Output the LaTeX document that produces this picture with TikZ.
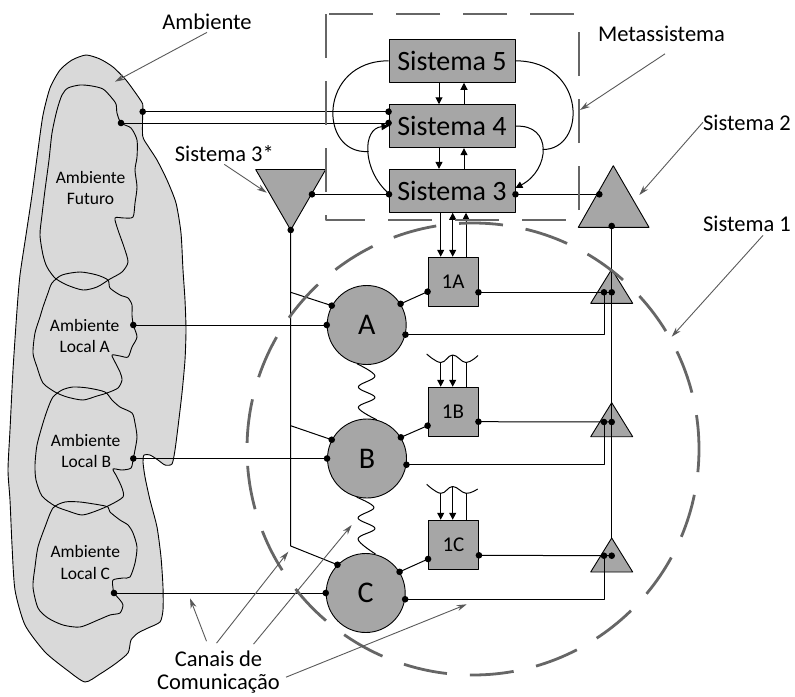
\documentclass[tikz,border=0pt]{standalone}
\usepackage{fontspec}
\setmainfont{Carlito}
\usetikzlibrary{arrows.meta,calc}

\definecolor{boxgray}{HTML}{A6A6A6}
\definecolor{envgray}{HTML}{D9D9D9}
\definecolor{dashgray}{HTML}{666666}
\definecolor{notegray}{HTML}{595959}

\newcommand\vsmdot[1]{\fill (#1) circle (3.3pt);}

\begin{document}
\begin{tikzpicture}[x=1pt,y=-1pt,line join=round,
  wire/.style={black, line width=1pt},
  arr/.style={wire, -{Triangle[length=7pt,width=7pt]}},
  biarr/.style={wire, {Triangle[length=7pt,width=7pt]}-{Triangle[length=7pt,width=7pt]}},
  sysbox/.style={draw=black, line width=0.9pt, fill=boxgray, minimum width=126pt,
    minimum height=43pt, inner sep=0pt, font=\fontsize{28}{30}\selectfont},
  opbox/.style={draw=black, line width=0.9pt, fill=boxgray, minimum width=50pt,
    minimum height=49pt, inner sep=0pt, font=\fontsize{21}{23}\selectfont},
  unit/.style={circle, draw=black, line width=0.9pt, fill=boxgray, minimum size=79pt,
    inner sep=0pt, font=\fontsize{30}{32}\selectfont},
  tri/.style={draw=black, line width=0.9pt, fill=boxgray},
  envline/.style={black, line width=0.9pt},
  dashline/.style={dashgray, line width=2.8pt, dash pattern=on 44pt off 23pt},
  note/.style={notegray, line width=0.9pt, -{Stealth[length=10pt,width=6pt]}},
  lbl/.style={font=\fontsize{22.5}{26}\selectfont, inner sep=0pt, anchor=base},
  small/.style={font=\fontsize{17.5}{21}\selectfont, inner sep=0pt, anchor=base},
]
\useasboundingbox (0,0) rectangle (795,696);

% ---------- environment ----------
\draw[envline, fill=envgray] plot[smooth cycle, tension=0.4] coordinates {
 (86,55) (100,59) (113,67) (126,80) (137,95) (142.7,104) (142.7,112) (142.7,136)
 (148,146) (157,160) (167,180) (176,203) (181,233) (183,270) (185,300) (186,330)
 (185,360) (182,393) (178,427) (175,450) (172,464) (165,465) (158,460) (150,455)
 (144,455) (143,462) (145,477) (150,500) (157,527) (161,557) (163,587) (163,610)
 (160,622) (148,628) (138,633) (131,640) (128,653) (115,664) (100,674) (85,682)
 (67,670) (45,652) (25,625) (15,590) (12,545) (10,500) (8,470) (10,430) (13,370)
 (17,310) (20,275) (26,235) (32,195) (38,150) (43,115) (50,88) (60,70) (72,60)};
% future environment
\draw[envline] plot[smooth cycle, tension=0.45] coordinates {
 (80,85) (92,86) (103,89) (111,97) (116,104) (117,113) (121,123) (131,128) (137,140)
 (137,157) (135,170) (137,187) (135,203) (133,217) (124,218) (115,218) (118,230)
 (124,247) (128,262) (122,272) (110,279) (97,287) (83,290) (67,285) (55,278) (47,267)
 (43,255) (40,235) (42,215) (45,190) (49,160) (52,133) (57,110) (62,95) (68,88)};
% local environment A
\draw[envline] plot[smooth cycle, tension=0.45] coordinates {
 (52,283) (62,275) (80,272) (97,275) (108,280) (110,288) (120,295) (128,298) (132,305)
 (132,315) (133.3,325) (137,337) (132,347) (128,357) (120,356) (112,355) (115,362)
 (120,372) (122,380) (118,388) (107,393) (97,396) (83,400) (67,397) (55,392) (43,383)
 (37,367) (33,353) (35,333) (40,317) (43,307) (48,293)};
% local environment B
\draw[envline] plot[smooth cycle, tension=0.45] coordinates {
 (53,397) (62,390) (73,387) (88,388) (105,392) (112,400) (120,407) (132,413) (135,423)
 (137,437) (135,450) (133.3,458.5) (131,468) (122,470) (113,469) (117,477) (122,488)
 (123,497) (110,505) (96,511) (82,515) (68,511) (55,506) (42,496) (36,480) (35,465)
 (37,445) (43,423) (48,408)};
% local environment C
\draw[envline] plot[smooth cycle, tension=0.45] coordinates {
 (53,508) (65,502) (80,502) (100,505) (108,507) (110,512) (120,520) (128,525) (133,533)
 (137,547) (135,563) (130,577) (123,578) (113,580) (113,588) (114,593) (120,600)
 (123,605) (120,613) (110,615) (98,620) (80,627) (63,625) (48,618) (38,608) (33,587)
 (35,567) (38,547) (45,527)};

\node[small] (tF1) at (90.5,183.5) {Ambiente};
\node[small] (tF2) at (90.5,204.5) {Futuro};
\node[small] (tA1) at (84.7,331.7) {Ambiente};
\node[small] (tA2) at (84.7,352.7) {Local A};
\node[small] (tB1) at (85.7,446.7) {Ambiente};
\node[small] (tB2) at (86.2,467) {Local B};
\node[small] (tC1) at (85.3,557.3) {Ambiente};
\node[small] (tC2) at (85.3,579) {Local C};

% ---------- metasystem ----------
\node[sysbox] (s5) at (452,60.8) {Sistema 5};
\node[sysbox] (s4) at (452,126.2) {Sistema 4};
\node[sysbox] (s3) at (452,190.8) {Sistema 3};

\draw[arr] ([xshift=-13pt]s5.south) -- ([xshift=-13pt]s4.north);
\draw[arr] ([xshift=12pt]s4.north) -- ([xshift=12pt]s5.south);
\draw[arr] ([xshift=-13pt]s4.south) -- ([xshift=-13pt]s3.north);
\draw[arr] ([xshift=12pt]s3.north) -- ([xshift=12pt]s4.south);

\coordinate (jl) at (368.7,151.5);
\coordinate (jr) at (542.6,149.5);
\draw[wire] (s5.west) .. controls (318,61) and (318,155) .. (jl);
\draw[arr] ([yshift=-2.5pt]s3.west) .. controls (362,170) and (362,128) .. (s4.west);
\draw[wire] (s5.east) .. controls (587,61) and (587,150) .. (jr);
\draw[arr] (s4.east) .. controls (553,124) and (550,170) .. ([yshift=2.8pt]s3.east);

% triangles
\coordinate (qa) at (255.7,169.5);
\coordinate (qb) at (325.7,169.5);
\coordinate (qc) at (290.7,230);
\draw[tri] (qa) -- (qb) -- (qc) -- cycle;
\coordinate (ka) at (613.3,165.7);
\coordinate (kb) at (578.3,227.3);
\coordinate (kc) at (649,227.3);
\draw[tri] (ka) -- (kb) -- (kc) -- cycle;
\foreach \n/\ya in {1/269.3, 2/402.7, 3/538}{
  \coordinate (m\n) at (611.7,\ya);
  \draw[tri] (m\n) -- ++(-21,34) -- ++(42,0) -- cycle;
}

% ---------- operations ----------
\node[unit] (A) at (366.7,325) {A};
\node[unit] (B) at (367,458.5) {B};
\node[unit] (C) at (365.7,593) {C};
\node[opbox] (o1A) at (453,281.7) {1A};
\node[opbox] (o1B) at (453,411.7) {1B};
\node[opbox] (o1C) at (453.5,544.7) {1C};

% links from the environment to Sistema 4
\coordinate (eu) at (142.7,111.7);
\coordinate (ef) at (121,123);
\draw[wire] (eu) -- (eu -| s4.west);
\draw[wire] (ef) -- (ef -| s4.west);

% Sistema 3* and Sistema 2 links
\coordinate (qr) at (312,194.3);
\coordinate (s3l) at (389,194.3);
\coordinate (s3r) at (515.5,194.3);
\coordinate (kd) at (599.3,194.3);
\coordinate (ke) at (611.7,226);
\draw[wire] (qr) -- (s3l);
\draw[wire] (s3r) -- (kd);
\draw[wire] (ke) -- (m3);

\coordinate (va) at (290.7,292.3);
\coordinate (vb) at (290.7,425.7);
\coordinate (vc) at (290.7,546);
\draw[wire] (qc) -- (vc) -- (C.135);
\draw[wire] (va) -- (A.151);
\draw[wire] (vb) -- (B.152);

% local environments to units
\coordinate (la) at (133.3,325);
\coordinate (lb) at (133.3,458.5);
\coordinate (lc) at (114,593);
\draw[wire] (la) -- (A.180);
\draw[wire] (lb) -- (B.180);
\draw[wire] (lc) -- (C.180);

% units to operations
\draw[wire] (A.32) -- ([yshift=-10pt]o1A.west);
\draw[wire] (B.32) -- ([yshift=-14pt]o1B.west);
\draw[wire] (C.32) -- ([yshift=-14.3pt]o1C.west);

% regulation triangles
\coordinate (t1l) at (604,292.3);  \coordinate (t1r) at (611.7,292.3);
\coordinate (t2l) at (604,422);    \coordinate (t2r) at (611.7,422);
\coordinate (t3l) at (604,555.7);  \coordinate (t3r) at (611.7,555.7);
\draw[wire] ([yshift=-10.6pt]o1A.east) -- (t1r);
\draw[wire] ([yshift=-10pt]o1B.east) -- (t2r);
\draw[wire] ([yshift=-10.6pt]o1C.east) -- (t3r);
\draw[wire] (A.-14) -- (A.-14 -| t1l) -- (t1l);
\draw[wire] (B.-9) -- (B.-9 -| t2l) -- (t2l);
\draw[wire] (C.-9) -- (C.-9 -| t3l) -- (t3l);

% Sistema 3 to 1A
\draw[arr] (s3.south -| 440.7,0) -- (o1A.north -| 440.7,0);
\draw[biarr] (s3.south -| 452.7,0) -- (o1A.north -| 452.7,0);
\draw[arr] (o1A.north -| 466,0) -- (s3.south -| 466,0);

% inputs to 1B and 1C
\draw[wire] plot[smooth, tension=0.7] coordinates
  {(426.7,354) (440.7,362.5) (452.7,355) (466,362.5) (478,355.5)};
\draw[arr] (440.7,362.5) -- (o1B.north -| 440.7,0);
\draw[arr] (452.7,355) -- (o1B.north -| 452.7,0);
\draw[wire] (466,362.5) -- (o1B.north -| 466,0);
\draw[wire] plot[smooth, tension=0.7] coordinates
  {(426.7,484.3) (440.7,493.3) (452.7,486.5) (466,493.3) (477.7,489)};
\draw[arr] (440.7,493.3) -- (o1C.north -| 440.7,0);
\draw[arr] (452.7,486.5) -- (o1C.north -| 452.7,0);
\draw[wire] (466,493.3) -- (o1C.north -| 466,0);

% springs between units
\draw[wire] plot[smooth, tension=0.6] coordinates
  {(357,363.8) (375,376) (358.3,387) (375,397.5) (358.3,407.5) (376.7,419.7)};
\draw[wire] plot[smooth, tension=0.6] coordinates
  {(356.7,497.2) (374,507.5) (358,518) (375,528.5) (358,539) (375.5,554)};

% dots
\foreach \p in {eu, ef, qr, s3l, s3r, kd, ke, qc, la, lb, lc,
  t1l, t1r, t2l, t2r, t3l, t3r}{\vsmdot{\p}}
\vsmdot{eu -| s4.west}
\vsmdot{ef -| s4.west}
\foreach \u/\a in {A/180, A/151, A/32, A/-14, B/180, B/152, B/32, B/-9,
  C/180, C/135, C/32, C/-9}{\vsmdot{\u.\a}}
\vsmdot{$(o1A.west)+(0,10)$}
\vsmdot{$(o1B.west)+(0,14)$}
\vsmdot{$(o1C.west)+(0,14.3)$}
\vsmdot{$(o1A.east)+(0,10.6)$}
\vsmdot{$(o1B.east)+(0,10)$}
\vsmdot{$(o1C.east)+(0,10.6)$}

% ---------- boundaries ----------
\draw[dashline] (326,14) rectangle (579,220);
\draw[dashline, dash phase=10pt] (473,449) circle (226pt);

% ---------- labels ----------
\node[lbl] (lAmb) at (207,29) {Ambiente};
\node[lbl] (lMeta) at (661.5,41.5) {Metassistema};
\node[lbl] (lS2) at (747,130) {Sistema 2};
\node[lbl] (lS1) at (747,231) {Sistema 1};
\node[lbl] (lS3s) at (224.3,161) {Sistema 3*};
\node[lbl] (lCan1) at (218.5,666) {Canais de};
\node[lbl] (lCan2) at (218.5,689) {Comunicação};

\coordinate (nAmb) at (115,81.7);
\coordinate (nMeta) at (580,110);
\coordinate (nS2) at (639.3,195);
\coordinate (nS1) at (671.7,336.7);
\coordinate (nS3s) at (266.7,192.7);
\coordinate (nc1) at (190,598.3);
\coordinate (nc2) at (288.3,551.7);
\coordinate (nc3) at (351.7,525);
\coordinate (nc4) at (466.7,604.3);
\draw[note] ([yshift=-3pt]lAmb.south) -- (nAmb);
\draw[note] ([xshift=3.5pt,yshift=-12pt]lMeta.south) -- (nMeta);
\draw[note] (lS2.west) -- (nS2);
\draw[note] ([xshift=16pt,yshift=-4pt]lS1.south) -- (nS1);
\draw[note] ([yshift=-3pt]lS3s.south) -- (nS3s);
\draw[note] ([xshift=-12pt,yshift=9pt]lCan1.north) -- (nc1);
\draw[note] ([xshift=-2pt,yshift=7pt]lCan1.north) -- (nc2);
\draw[note] ([xshift=35pt,yshift=6pt]lCan1.north) -- (nc3);
\draw[note] ([xshift=6pt,yshift=6pt]lCan2.east) -- (nc4);
\end{tikzpicture}
\end{document}
